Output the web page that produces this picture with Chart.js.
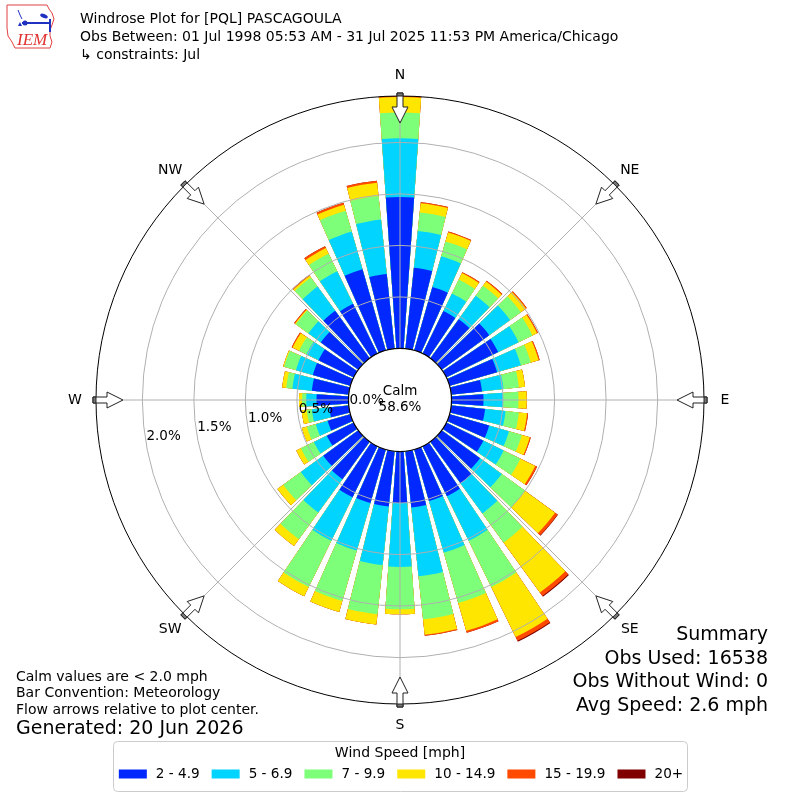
<!DOCTYPE html>
<html>
<head>
<meta charset="utf-8">
<script src="https://cdn.jsdelivr.net/npm/chart.js@4.4.1/dist/chart.umd.min.js"></script>
<style>
  html, body { margin: 0; padding: 0; background: #fff; }
  canvas { display: block; }
</style>
</head>
<body>
<canvas id="rose" width="800" height="800"></canvas>
<script>
// wind direction bins (deg, meteorological) and speed classes
var directions = [0, 10, 20, 30, 40, 50, 60, 70, 80, 90, 100, 110, 120, 130, 140, 150, 160, 170,
                  180, 190, 200, 210, 220, 230, 240, 250, 260, 270, 280, 290, 300, 310, 320, 330, 340, 350];
var speedBins = ['2 - 4.9', '5 - 6.9', '7 - 9.9', '10 - 14.9', '15 - 19.9', '20+'];
var binColors = ['#0028ff', '#00d4ff', '#7dff7a', '#ffe600', '#ff4a00', '#800000'];

// percent of obs per direction, one array per speed class
var pct2to5 = [1.47, 0.79, 0.64, 0.46, 0.47, 0.57, 0.56, 0.48, 0.30, 0.31, 0.33, 0.40, 0.40, 0.46, 0.50, 0.54, 0.52, 0.55,
               0.50, 0.54, 0.54, 0.55, 0.45, 0.42, 0.29, 0.23, 0.19, 0.31, 0.36, 0.38, 0.38, 0.45, 0.57, 0.54, 0.82, 0.73];
var pct5to7 = [0.57, 0.36, 0.31, 0.19, 0.28, 0.25, 0.22, 0.24, 0.21, 0.19, 0.20, 0.20, 0.22, 0.26, 0.36, 0.48, 0.52, 0.67,
               0.62, 0.57, 0.48, 0.47, 0.40, 0.27, 0.14, 0.12, 0.17, 0.10, 0.19, 0.17, 0.13, 0.15, 0.29, 0.35, 0.38, 0.53];
var pct7to10 = [0.25, 0.18, 0.15, 0.15, 0.12, 0.13, 0.15, 0.10, 0.15, 0.15, 0.13, 0.13, 0.18, 0.28, 0.35, 0.50, 0.51, 0.42,
                0.41, 0.48, 0.51, 0.50, 0.32, 0.21, 0.14, 0.09, 0.05, 0.04, 0.06, 0.12, 0.08, 0.15, 0.11, 0.19, 0.21, 0.23];
var pct10to15 = [0.15, 0.09, 0.09, 0.07, 0.05, 0.06, 0.05, 0.08, 0.06, 0.08, 0.08, 0.08, 0.16, 0.36, 0.60, 0.54, 0.28, 0.15,
                 0.05, 0.10, 0.11, 0.10, 0.08, 0.07, 0.05, 0.05, 0.05, 0.03, 0.04, 0.01, 0.07, 0.01, 0.02, 0.06, 0.06, 0.13];
var pct15to20 = [0.01, 0.01, 0.01, 0.01, 0.01, 0.01, 0.01, 0.01, 0, 0, 0.01, 0.01, 0.02, 0.03, 0.04, 0.04, 0.02, 0.01,
                 0, 0, 0, 0, 0, 0, 0, 0, 0, 0, 0, 0, 0.01, 0.01, 0.01, 0.02, 0.02, 0.02];
var pct20plus = [0, 0, 0, 0, 0, 0, 0, 0, 0, 0, 0, 0, 0, 0.005, 0.01, 0.01, 0, 0,
                 0, 0, 0, 0, 0, 0, 0, 0, 0, 0, 0, 0, 0, 0, 0, 0, 0, 0];

var ringTicks = [0, 0.5, 1.0, 1.5, 2.0];
var compass = ['N', 'NE', 'E', 'SE', 'S', 'SW', 'W', 'NW'];
var calmPct = 58.6;

var titleLines = ['Windrose Plot for [PQL] PASCAGOULA',
                  'Obs Between: 01 Jul 1998 05:53 AM - 31 Jul 2025 11:53 PM America/Chicago',
                  '\u21b3 constraints: Jul'];
var noteLines = ['Calm values are < 2.0 mph', 'Bar Convention: Meteorology', 'Flow arrows relative to plot center.'];
var generatedText = 'Generated: 20 Jun 2026';
var summaryLines = ['Summary', 'Obs Used: 16538', 'Obs Without Wind: 0', 'Avg Speed: 2.6 mph'];
var legendTitle = 'Wind Speed [mph]';

var FONT = '"DejaVu Sans", Verdana, sans-serif';

// polarArea can't stack, so each dataset holds the running total and the
// smaller ones are drawn on top; every bin gets a transparent gap slice after it
var series = [pct2to5, pct5to7, pct7to10, pct10to15, pct15to20, pct20plus];
var labels = [];
directions.forEach(function (d) { labels.push(d + '\u00b0'); labels.push(''); });
var running = directions.map(function () { return 0; });
var datasets = series.map(function (vals, k) {
    var data = [];
    for (var i = 0; i < directions.length; i++) {
        running[i] += vals[i];
        data.push(running[i]);
        data.push(0);
    }
    return {
        label: speedBins[k],
        data: data,
        borderWidth: 0,
        backgroundColor: function (c) { return c.dataIndex % 2 ? 'rgba(0,0,0,0)' : binColors[k]; },
        angle: function (c) { return c.dataIndex % 2 ? 2 : 8; }
    };
});
var rMax = Math.max.apply(null, running);

function arrow(c, cx, cy, a, rTail, rTip) {
    var ux = Math.sin(a), uy = -Math.cos(a);
    var px = -uy, py = ux;
    var rHead = rTip + 16;
    function pt(r, w) { return [cx + ux * r + px * w, cy + uy * r + py * w]; }
    var pts = [pt(rTail, -3), pt(rHead, -3), pt(rHead, -8), pt(rTip, 0), pt(rHead, 8), pt(rHead, 3), pt(rTail, 3)];
    c.beginPath();
    c.moveTo(pts[0][0], pts[0][1]);
    for (var i = 1; i < pts.length; i++) c.lineTo(pts[i][0], pts[i][1]);
    c.closePath();
    c.fillStyle = '#fff';
    c.fill();
    c.strokeStyle = '#222';
    c.lineWidth = 1;
    c.stroke();
    // darker tail stub where it meets the frame
    var t = [pt(rTail, -3), pt(rTail - 3, -3), pt(rTail - 3, 3), pt(rTail, 3)];
    c.beginPath();
    c.moveTo(t[0][0], t[0][1]);
    for (i = 1; i < t.length; i++) c.lineTo(t[i][0], t[i][1]);
    c.closePath();
    c.fillStyle = '#777';
    c.fill();
    c.stroke();
}

function drawLogo(c) {
    c.save();
    c.strokeStyle = '#e04040';
    c.lineWidth = 1;
    c.beginPath();
    c.moveTo(7, 5); c.lineTo(47, 5); c.lineTo(49, 9); c.lineTo(52, 13); c.lineTo(54, 19);
    c.lineTo(52, 25); c.lineTo(50, 30); c.lineTo(50, 36); c.lineTo(52, 42); c.lineTo(50, 48);
    c.lineTo(15, 48); c.lineTo(12, 42); c.lineTo(8, 36); c.lineTo(7, 28); c.closePath();
    c.stroke();
    c.strokeStyle = '#2030c0';
    c.fillStyle = '#2030c0';
    c.lineWidth = 2;
    c.beginPath(); c.moveTo(22, 23); c.lineTo(49, 23); c.stroke();
    c.beginPath(); c.moveTo(50, 19); c.lineTo(50, 32); c.stroke();
    c.beginPath(); c.ellipse(44, 16, 4, 2, 0.4, 0, Math.PI * 2); c.fill();
    c.beginPath(); c.arc(25, 23, 2.5, 0, Math.PI * 2); c.fill();
    c.lineWidth = 1;
    c.beginPath(); c.moveTo(18, 10); c.lineTo(20, 15); c.lineTo(22, 19); c.stroke();
    c.beginPath(); c.moveTo(18, 26); c.lineTo(20, 22); c.lineTo(22, 26); c.closePath(); c.fill();
    c.font = 'italic 17px "Liberation Serif", serif';
    c.fillStyle = '#e03030';
    c.textAlign = 'left';
    c.textBaseline = 'alphabetic';
    c.fillText('IEM', 17, 45);
    c.restore();
}

var decor = {
    id: 'decor',
    afterDraw: function (chart) {
        var c = chart.ctx, s = chart.scales.r;
        var cx = s.xCenter, cy = s.yCenter;
        var r0 = s.getDistanceFromCenterForValue(0);
        var r1 = s.getDistanceFromCenterForValue(rMax);
        c.save();

        // compass spokes over the bars
        c.strokeStyle = '#b0b0b0';
        c.lineWidth = 1;
        compass.forEach(function (lab, i) {
            var a = i * Math.PI / 4;
            c.beginPath();
            c.moveTo(cx + Math.sin(a) * r0, cy - Math.cos(a) * r0);
            c.lineTo(cx + Math.sin(a) * r1, cy - Math.cos(a) * r1);
            c.stroke();
        });

        // calm circle
        c.beginPath();
        c.arc(cx, cy, r0, 0, Math.PI * 2);
        c.fillStyle = '#fff';
        c.fill();
        c.strokeStyle = '#000';
        c.lineWidth = 1.2;
        c.stroke();

        c.fillStyle = '#000';
        c.textBaseline = 'middle';
        c.textAlign = 'center';
        c.font = '13.5px ' + FONT;
        c.fillText('Calm', cx, cy - 9);
        c.fillText(calmPct.toFixed(1) + '%', cx, cy + 7);

        // ring labels
        c.textAlign = 'left';
        ringTicks.forEach(function (v) {
            var r = s.getDistanceFromCenterForValue(v);
            c.fillText(v.toFixed(1) + '%', cx - r + 1 + (r - r0) * 0.015, cy + (r - r0) * 0.178);
        });

        // flow arrows and compass labels
        c.textAlign = 'center';
        c.font = '14px ' + FONT;
        compass.forEach(function (lab, i) {
            var a = i * Math.PI / 4;
            arrow(c, cx, cy, a, r1 + 3, r1 - 27);
            c.fillStyle = '#000';
            c.fillText(lab, cx + Math.sin(a) * (r1 + 21), cy - Math.cos(a) * (r1 + 21));
        });

        // header
        drawLogo(c);
        c.fillStyle = '#000';
        c.textAlign = 'left';
        c.font = '14px ' + FONT;
        titleLines.forEach(function (t, i) { c.fillText(t, 80, 19 + i * 18); });

        // notes bottom left
        noteLines.forEach(function (t, i) { c.fillText(t, 16, 677 + i * 16.5); });
        c.font = '19px ' + FONT;
        c.fillText(generatedText, 16, 729);

        // summary bottom right
        c.textAlign = 'right';
        summaryLines.forEach(function (t, i) { c.fillText(t, 768, 635 + i * 23.7); });

        // legend box
        c.beginPath();
        c.roundRect(113.5, 741.5, 574, 50, 4);
        c.fillStyle = '#fff';
        c.fill();
        c.strokeStyle = '#cccccc';
        c.lineWidth = 1;
        c.stroke();
        c.fillStyle = '#000';
        c.textAlign = 'center';
        c.font = '14px ' + FONT;
        c.fillText(legendTitle, 400, 753);
        c.font = '13.6px ' + FONT;
        var widths = speedBins.map(function (t) { return c.measureText(t).width; });
        var total = 0;
        widths.forEach(function (w, i) { total += 28 + 9 + w + (i < widths.length - 1 ? 12 : 0); });
        var x = 401 - total / 2;
        c.textAlign = 'left';
        speedBins.forEach(function (t, i) {
            c.fillStyle = binColors[i];
            c.fillRect(x, 769.5, 28, 9);
            c.fillStyle = '#000';
            c.fillText(t, x + 37, 774);
            x += 37 + widths[i] + 12;
        });
        c.restore();
    }
};

new Chart(document.getElementById('rose').getContext('2d'), {
    type: 'polarArea',
    data: { labels: labels, datasets: datasets },
    options: {
        responsive: false,
        animation: false,
        layout: { padding: 96 },
        plugins: {
            legend: { display: false },
            tooltip: { enabled: false },
            title: { display: false }
        },
        scales: {
            r: {
                min: -0.5,
                max: rMax,
                startAngle: -4,
                ticks: { display: false },
                angleLines: { display: false },
                pointLabels: { display: false },
                grid: {
                    z: 1,
                    circular: true,
                    lineWidth: 1,
                    color: function (c) { return c.tick && c.tick.value >= rMax ? '#000' : '#b0b0b0'; }
                },
                afterBuildTicks: function (scale) {
                    scale.ticks = ringTicks.concat([rMax]).map(function (v) { return { value: v }; });
                }
            }
        }
    },
    plugins: [decor]
});
</script>
</body>
</html>
